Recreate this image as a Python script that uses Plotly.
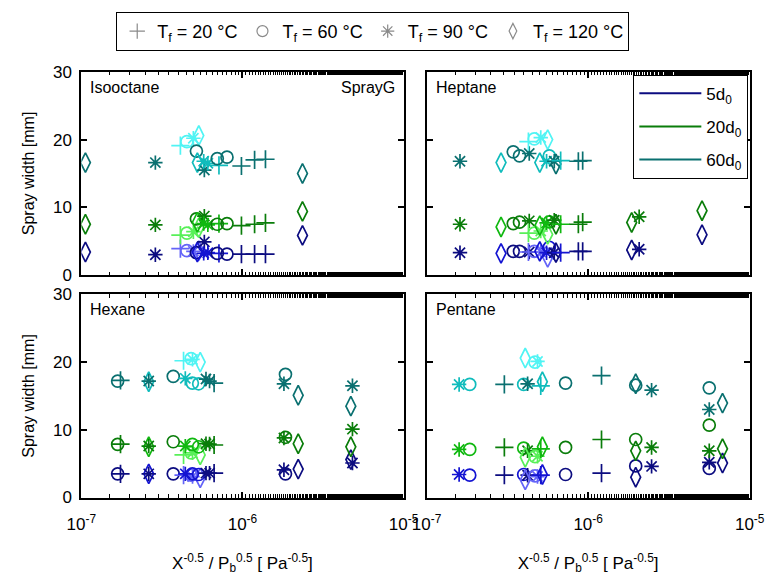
import plotly.graph_objects as go

# Spray width at 5, 20 and 60 nozzle diameters versus X^-0.5 / Pb^0.5 (Spray G)
# Symbol: fuel temperature group; shade: D = dark, M = medium, L = light

ISO_X = [1.06e-7, 2.88e-7, 4.12e-7, 4.52e-7, 4.96e-7, 5.36e-7, 5.18e-7, 5.25e-7, 5.8e-7,
         5.75e-7, 6.1e-7, 7.15e-7, 6.98e-7, 8.02e-7, 9.86e-7, 1.19e-6, 1.39e-6, 2.36e-6]
ISO_SYM = ["d", "s", "p", "c", "s", "d", "c", "d", "s", "s", "s", "p", "c", "c", "p", "p", "p", "d"]
ISO_SHADE = ["D", "D", "L", "L", "L", "L", "D", "M", "D", "M", "M", "M", "D", "D", "D", "D", "D", "D"]
ISO_W5 = [3.4, 3.0, 3.9, 3.6, 3.5, 3.6, 3.3, 3.4, 4.9, 3.2, 3.3, 3.2, 3.2, 3.1, 3.1, 3.1, 3.1, 5.85]
ISO_W20 = [7.5, 7.4, 5.9, 6.2, 6.4, 7.0, 8.3, 7.8, 8.7, 7.6, 7.4, 7.6, 7.5, 7.6, 7.3, 7.5, 7.7, 9.4]
ISO_W60 = [16.6, 16.6, 19.1, 19.7, 20.2, 20.6, 18.3, 16.6, 15.5, 16.8, 16.5, 16.2, 17.2, 17.4,
           16.1, 17.0, 17.1, 15.0]

HEP_X = [1.61e-7, 2.89e-7, 3.44e-7, 3.76e-7, 4.32e-7, 4.27e-7, 4.64e-7, 5.09e-7, 5.62e-7, 5.02e-7,
         5.75e-7, 5.53e-7, 6.32e-7, 6.17e-7, 6.76e-7, 8.7e-7, 9.25e-7, 1.86e-6, 2.07e-6, 5.07e-6]
HEP_SYM = ["s", "d", "c", "c", "s", "p", "c", "s", "d", "d", "c", "s", "d", "s", "p", "p", "p",
           "d", "s", "d"]
HEP_SHADE = ["D", "M", "D", "D", "D", "L", "L", "L", "L", "M", "M", "M", "D", "D", "M", "D", "D",
             "D", "D", "D"]
HEP_W5 = [3.3, 3.2, 3.5, 3.5, 3.4, 3.4, 3.5, 3.4, 2.6, 3.5, 4.1, 3.3, 3.3, 3.3, 3.3, 3.5, 3.5,
          3.7, 3.8, 5.95]
HEP_W20 = [7.5, 7.1, 7.6, 7.8, 8.0, 6.2, 6.2, 6.5, 6.0, 7.3, 7.85, 7.7, 7.5, 8.1, 7.5, 7.5, 7.8,
           7.76, 8.6, 9.5]
HEP_W60 = [16.8, 16.6, 18.2, 17.6, 17.95, 19.7, 20.1, 20.3, 20.0, 16.6, 17.6, 16.8, 16.4, 16.8,
           16.9, 16.8, 16.9, None, None, None]

HEX_X = [1.68e-7, 1.75e-7, 2.62e-7, 2.62e-7, 3.72e-7, 4.31e-7, 4.80e-7, 4.9e-7, 5.47e-7, 4.42e-7,
         4.89e-7, 5.35e-7, 5.94e-7, 6.25e-7, 6.67e-7, 1.85e-6, 1.81e-6, 2.22e-6, 4.82e-6, 4.71e-6]
HEX_SYM = ["c", "p", "d", "s", "c", "p", "c", "s", "d", "s", "c", "c", "s", "s", "p", "c", "s",
           "d", "s", "d"]
HEX_SHADE = ["D", "D", "M", "D", "D", "L", "L", "L", "L", "M", "M", "M", "D", "D", "D", "D", "D",
             "D", "D", "D"]
HEX_W5 = [3.5, 3.5, 3.5, 3.5, 3.5, 3.3, 3.3, 3.1, 2.9, 3.5, 3.5, 3.4, 3.6, 3.6, 3.6, 3.5, 4.1,
          4.2, 5.1, 5.6]
HEX_W20 = [7.86, 7.9, 7.5, 7.6, 8.24, 6.3, 6.6, 6.6, 6.3, 7.6, 7.86, 7.5, 7.95, 7.9, 7.76, 8.9,
           8.8, 7.95, 10.1, 7.5]
HEX_W60 = [17.2, 17.3, 17.1, 17.2, 17.9, 20.2, 20.5, 20.4, 20.0, 17.6, 16.9, 16.8, 17.5, 17.2,
           16.9, 18.2, 16.8, 15.1, 16.5, 13.5]

PEN_X = [1.59e-7, 1.85e-7, 3.03e-7, 3.99e-7, 4.22e-7, 4.08e-7, 4.69e-7, 4.86e-7, 5.21e-7, 5.09e-7,
         7.25e-7, 1.21e-6, 1.97e-6, 1.97e-6, 2.47e-6, 5.62e-6, 5.62e-6, 6.79e-6]
PEN_SYM = ["s", "c", "p", "c", "s", "d", "c", "s", "d", "p", "c", "p", "c", "d", "s", "c", "s", "d"]
PEN_SHADE = ["M", "M", "D", "M", "D", "L", "L", "L", "M", "M", "D", "D", "D", "D", "D", "D", "D", "D"]
PEN_W5 = [3.4, 3.3, 3.3, 3.4, 3.3, 2.6, 3.2, 3.1, 3.4, 3.3, 3.4, 3.6, 4.67, 3.0, 4.6, 4.3, 5.2, 5.1]
PEN_W20 = [7.1, 7.1, 7.4, 7.3, 6.9, 5.95, 6.05, 6.1, 7.5, 7.2, 7.4, 8.57, 8.57, 6.9, 7.4, 10.7,
           6.9, 7.2]
PEN_W60 = [16.7, 16.7, 16.7, 16.7, 16.8, 20.6, 20.0, 20.1, 17.1, 16.5, 16.9, 18.0, 16.6, 16.8,
           15.86, 16.2, 13.0, 13.95]

FUEL_TEMPS = ["20", "60", "90", "120"]
DIST_LABELS = ["5d<sub>0</sub>", "20d<sub>0</sub>", "60d<sub>0</sub>"]

SYMBOLS = {"p": "cross-thin-open", "c": "circle-open", "s": "asterisk-open", "d": "diamond-tall-open"}
SIZES = {"p": 13, "c": 12, "s": 12, "d": 14}
PALETTE = {
    "D": ["#0c0c80", "#0a7d0a", "#0a7070"],
    "M": ["#1414d2", "#10b810", "#10bcbc"],
    "L": ["#6464f8", "#58f058", "#50f4f4"],
}

panels = [
    (ISO_X, ISO_SYM, ISO_SHADE, [ISO_W5, ISO_W20, ISO_W60], "x", "y"),
    (HEP_X, HEP_SYM, HEP_SHADE, [HEP_W5, HEP_W20, HEP_W60], "x2", "y2"),
    (HEX_X, HEX_SYM, HEX_SHADE, [HEX_W5, HEX_W20, HEX_W60], "x3", "y3"),
    (PEN_X, PEN_SYM, PEN_SHADE, [PEN_W5, PEN_W20, PEN_W60], "x4", "y4"),
]

FONT = "Liberation Sans, Arial, sans-serif"
fig = go.Figure()

for xs, syms, shades, widths, xa, ya in panels:
    for k, w in enumerate(widths):
        fig.add_trace(go.Scatter(
            x=xs, y=w, xaxis=xa, yaxis=ya, mode="markers", showlegend=False,
            marker=dict(
                symbol=[SYMBOLS[s] for s in syms],
                size=[SIZES[s] for s in syms],
                color=[PALETTE[sh][k] for sh in shades],
                opacity=1,
                line=dict(width=1.7),
            ),
        ))

# fuel temperature legend (symbols in grey)
for t, s in zip(FUEL_TEMPS, ["p", "c", "s", "d"]):
    fig.add_trace(go.Scatter(
        x=[None], y=[None], mode="markers", name=f"T<sub>f</sub> = {t} °C",
        marker=dict(symbol=SYMBOLS[s], size=11, color="#8a8a8a", line=dict(width=1.2)),
        legend="legend",
    ))

# distance legend (line colours)
for k, lab in enumerate(DIST_LABELS):
    fig.add_trace(go.Scatter(
        x=[None], y=[None], mode="lines", name=lab,
        line=dict(color=PALETTE["D"][k], width=2),
        legend="legend2", legendgroup=f"g{k}",
    ))

XD = [[69 / 782, 404 / 782], [428 / 782, 764 / 782]]
YD = [[1 - 275 / 583, 1 - 65 / 583], [1 - 505 / 583, 1 - 295 / 583]]

axis_common = dict(
    showline=True, linewidth=2, linecolor="black", mirror="ticks",
    ticks="inside", tickcolor="black", tickwidth=1.5, showgrid=False, zeroline=False,
    tickfont=dict(family=FONT, size=17, color="black"),
)
xtick_vals = [1e-7, 1e-6, 1e-5]
xtick_text = ["10<sup>-7</sup>", "10<sup>-6</sup>", "10<sup>-5</sup>"]
xtitle = "X<sup>-0.5</sup> / P<sub>b</sub><sup>0.5</sup> [ Pa<sup>-0.5</sup>]"

layout_axes = {}
for i in range(4):
    row, col = divmod(i, 2)
    sfx = "" if i == 0 else str(i + 1)
    xa = dict(axis_common, type="log", range=[-7, -5], domain=XD[col],
              tickvals=xtick_vals, ticktext=xtick_text, ticklen=6, ticklabelstandoff=10,
              minor=dict(ticks="inside", ticklen=3.5, tickcolor="black", tickwidth=1.2,
                         showgrid=False),
              showticklabels=(row == 1), anchor="y" + sfx)
    if row == 1:
        xa["title"] = dict(text=xtitle, font=dict(family=FONT, size=17, color="black"),
                           standoff=24)
    ya = dict(axis_common, range=[0, 30], domain=YD[row], tickvals=[0, 10, 20, 30],
              ticklen=6, ticklabelstandoff=4, showticklabels=(col == 0), anchor="x" + sfx)
    if col == 0:
        ya["title"] = dict(text="Spray width [mm]", font=dict(family=FONT, size=16, color="black"),
                           standoff=14)
    layout_axes["xaxis" + sfx] = xa
    layout_axes["yaxis" + sfx] = ya

fig.update_layout(**layout_axes)

names = ["Isooctane", "Heptane", "Hexane", "Pentane"]
annotations = []
for i, nm in enumerate(names):
    sfx = "" if i == 0 else str(i + 1)
    annotations.append(dict(text=nm, xref=f"x{sfx} domain", yref=f"y{sfx} domain",
                            x=0.022, y=0.924, xanchor="left", yanchor="middle", showarrow=False,
                            font=dict(family=FONT, size=16, color="black")))
annotations.append(dict(text="SprayG", xref="x domain", yref="y domain", x=0.98, y=0.924,
                        xanchor="right", yanchor="middle", showarrow=False,
                        font=dict(family=FONT, size=16, color="black")))

fig.update_layout(
    width=782, height=583, margin=dict(l=0, r=0, t=0, b=0),
    paper_bgcolor="white", plot_bgcolor="white",
    font=dict(family=FONT, size=16, color="black"),
    annotations=annotations,
    legend=dict(orientation="h", x=372 / 782, xanchor="center", y=1 - 3 / 583, yanchor="top",
                bordercolor="black", borderwidth=1, bgcolor="white",
                font=dict(family=FONT, size=18, color="black"), itemsizing="trace"),
    legend2=dict(orientation="v", x=643 / 782, xanchor="left", y=1 - 68 / 583, yanchor="top",
                 bordercolor="black", borderwidth=1, bgcolor="white", tracegroupgap=8,
                 itemwidth=62, font=dict(family=FONT, size=17, color="black")),
)

fig.write_html("out.html")
